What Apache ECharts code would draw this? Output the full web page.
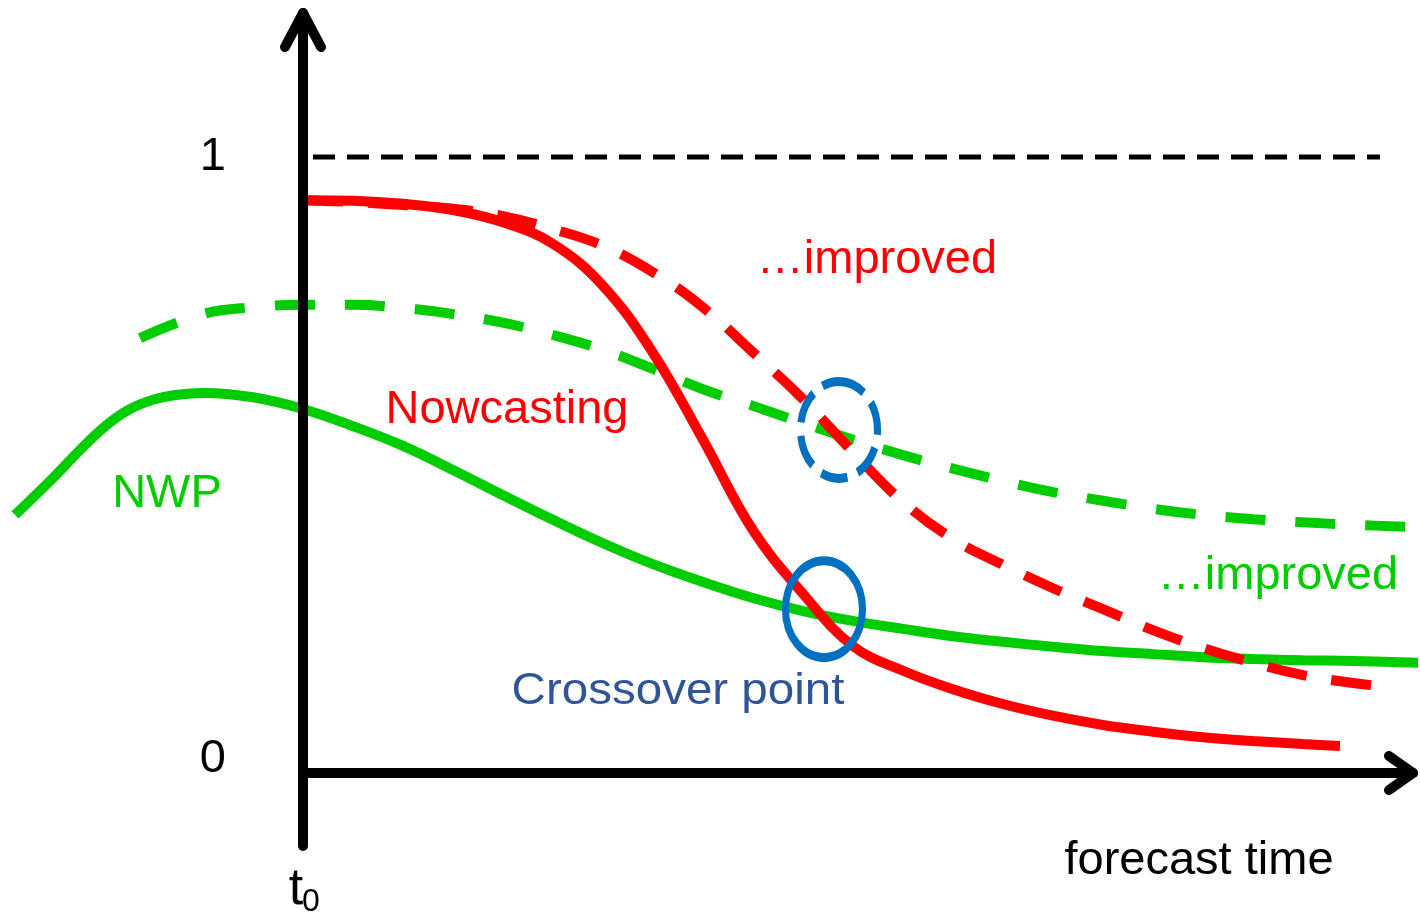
<!DOCTYPE html>
<html lang="en">
<head>
    <meta charset="UTF-8">
    <title>crossover</title>
    <script src="https://cdn.jsdelivr.net/npm/echarts@6/dist/echarts.min.js"></script>
    <style>html, body {margin: 0; padding: 0; background: #fff;}</style>
</head>
<body>
<div id="chart" style="width: 1420px;height:913px;"></div>
<script>
    // forecast time (arbitrary units, t0 = 0) and skill (0..1)
    let nowcastX = [0, 0.5, 1, 1.5, 2, 2.5, 3, 3.5, 4, 4.5, 5, 5.5, 6, 6.5, 7, 7.5, 8, 8.5, 9, 9.5, 10, 10.37]
    let nowcastY = [0.930, 0.929, 0.924, 0.914, 0.894, 0.859, 0.791, 0.682, 0.541, 0.394, 0.291, 0.206, 0.166, 0.136, 0.112, 0.093, 0.078, 0.067, 0.058, 0.052, 0.047, 0.044]

    let nowcastImpX = [0, 0.5, 1, 1.5, 2, 2.5, 3, 3.5, 4, 4.5, 5, 5.5, 6, 6.5, 7, 7.5, 8, 8.5, 9, 9.5, 10, 10.5, 10.87]
    let nowcastImpY = [0.930, 0.927, 0.922, 0.916, 0.904, 0.883, 0.856, 0.813, 0.756, 0.683, 0.607, 0.521, 0.440, 0.380, 0.338, 0.300, 0.266, 0.232, 0.203, 0.179, 0.159, 0.146, 0.140]

    let nwpX = [-2.88, -2.5, -2.25, -2, -1.75, -1.5, -1.25, -1, -0.5, 0, 0.5, 1, 1.5, 2, 2.5, 3, 3.5, 4, 4.5, 5, 5.5, 6, 6.5, 7, 7.5, 8, 8.5, 9, 9.5, 10, 10.5, 11.17]
    let nwpY = [0.419, 0.479, 0.521, 0.560, 0.589, 0.606, 0.614, 0.617, 0.610, 0.591, 0.563, 0.531, 0.492, 0.451, 0.411, 0.373, 0.339, 0.310, 0.284, 0.263, 0.247, 0.234, 0.222, 0.213, 0.205, 0.198, 0.193, 0.188, 0.185, 0.183, 0.182, 0.179]

    let nwpImpX = [-1.63, -1, -0.5, 0, 0.5, 1, 1.5, 2, 2.5, 3, 3.5, 4, 4.5, 5, 5.5, 6, 6.5, 7, 7.5, 8, 8.5, 9, 9.5, 10, 10.5, 11.17]
    let nwpImpY = [0.706, 0.745, 0.756, 0.760, 0.760, 0.755, 0.745, 0.731, 0.711, 0.687, 0.656, 0.623, 0.596, 0.568, 0.541, 0.516, 0.494, 0.474, 0.456, 0.442, 0.429, 0.419, 0.412, 0.407, 0.403, 0.399]

    // perfect skill level
    let perfectX = [0.1, 10.77]
    let perfectY = [1, 1]

    // crossover points (current / improved)
    let crossX = [5.21]
    let crossY = [0.266]
    let crossImpX = [5.36]
    let crossImpY = [0.557]

    let yTicks = [0, 1]

    // arrow heads at the axis ends
    let yArrowX = [-0.18, 0, 0.18]
    let yArrowY = [1.1786, 1.2338, 1.1786]
    let xArrowX = [10.86, 11.10, 10.86]
    let xArrowY = [0.0276, 0, -0.0276]

    const FONT = '"Liberation Sans", Arial, sans-serif';
    const RED = '#FF0000', GREEN = '#00CC00', BLUE = '#0070C0';
    const ELLIPSE = 'path://M50,0 C77.6,0 100,22.4 100,50 C100,77.6 77.6,100 50,100 C22.4,100 0,77.6 0,50 C0,22.4 22.4,0 50,0 Z';
    const Y_MIN = -0.1185, Y_MAX = 1.2338;

    function pairs(xs, ys) {
        return xs.map(function (x, i) { return [x, ys[i]]; });
    }

    function curve(name, xs, ys, color, dash) {
        return {
            name: name,
            type: 'line',
            data: pairs(xs, ys),
            smooth: 0.4,
            symbol: 'none',
            clip: false,
            silent: true,
            z: 2,
            lineStyle: {color: color, width: 10, type: dash || 'solid'}
        };
    }

    function arrow(xs, ys) {
        return {
            type: 'line',
            data: pairs(xs, ys),
            symbol: 'none',
            clip: false,
            silent: true,
            z: 6,
            lineStyle: {color: '#000', width: 10, cap: 'round', join: 'round'}
        };
    }

    function ring(xs, ys, dash) {
        return {
            type: 'scatter',
            data: pairs(xs, ys),
            symbol: ELLIPSE,
            symbolSize: [77, 97],
            clip: false,
            silent: true,
            z: 4,
            itemStyle: {color: 'rgba(0,0,0,0)', opacity: 1, borderColor: BLUE, borderWidth: 8, borderType: dash || 'solid'}
        };
    }

    function text(x, y, str, color, size, extra) {
        return Object.assign({
            type: 'text', x: x, y: y,
            style: {text: str, fill: color, font: size + 'px ' + FONT, align: 'center', verticalAlign: 'middle'}
        }, extra || {});
    }

    let chart = echarts.init(document.getElementById('chart'));

    let option = {
        animation: false,
        backgroundColor: '#fff',
        grid: [
            // plotting area, reaches left of t0
            {left: 0, right: 7, top: 13, bottom: 67},
            // visible axes start at t0
            {left: 303, right: 7, top: 13, bottom: 67}
        ],
        xAxis: [
            {gridIndex: 0, type: 'value', min: -3.03, max: 11.10, show: false},
            {
                gridIndex: 1,
                type: 'value',
                min: 0,
                max: 11.10,
                z: 5,
                axisLine: {show: true, onZero: true, lineStyle: {color: '#000', width: 10}},
                axisTick: {show: false},
                axisLabel: {show: false},
                splitLine: {show: false}
            }
        ],
        yAxis: [
            {gridIndex: 0, type: 'value', min: Y_MIN, max: Y_MAX, show: false},
            {
                gridIndex: 1,
                type: 'value',
                min: Y_MIN,
                max: Y_MAX,
                z: 5,
                axisLine: {show: true, lineStyle: {color: '#000', width: 10}},
                axisTick: {show: false},
                splitLine: {show: false},
                axisLabel: {
                    customValues: yTicks,
                    margin: 77,
                    color: '#000',
                    fontSize: 47,
                    fontFamily: FONT,
                    formatter: function (v) {
                        return v === 0 ? '{z|0}' : String(v);
                    },
                    rich: {
                        z: {color: '#000', fontSize: 47, fontFamily: FONT, padding: [0, 0, 28, 0]}
                    }
                }
            }
        ],
        graphic: [
            text(507, 410, 'Nowcasting', RED, 47),
            text(877, 260, '\u2026improved', RED, 47),
            text(167, 494, 'NWP', GREEN, 47),
            text(1278, 576, '\u2026improved', GREEN, 47),
            text(678, 692, 'Crossover point', '#2F5597', 44, {scaleX: 1.08}),
            text(1199, 861, 'forecast time', '#000', 47),
            text(296, 890, 't', '#000', 52),
            text(311, 902, '0', '#000', 32)
        ],
        series: [
            {
                type: 'line',
                data: pairs(perfectX, perfectY),
                symbol: 'none',
                clip: false,
                silent: true,
                z: 2,
                lineStyle: {color: '#000', width: 5, type: [22, 12]}
            },
            curve('NWP', nwpX, nwpY, GREEN),
            curve('NWP improved', nwpImpX, nwpImpY, GREEN, [40, 30]),
            curve('Nowcasting', nowcastX, nowcastY, RED),
            curve('Nowcasting improved', nowcastImpX, nowcastImpY, RED, [40, 25]),
            ring(crossX, crossY),
            ring(crossImpX, crossImpY, [30, 12]),
            arrow(yArrowX, yArrowY),
            arrow(xArrowX, xArrowY)
        ]
    };

    chart.setOption(option);
</script>

</body>
</html>
